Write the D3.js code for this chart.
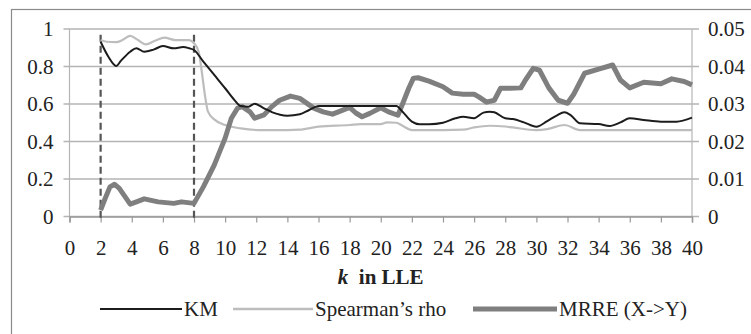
<!DOCTYPE html>
<html>
<head>
<meta charset="utf-8">
<script src="https://cdnjs.cloudflare.com/ajax/libs/d3/7.8.5/d3.min.js"></script>
<style>
  body { margin: 0; background: #fff; }
  svg { display: block; font-family: "Liberation Serif", "Times New Roman", serif; }
  .tick-label { font-size: 21px; fill: #222; font-family: "Liberation Serif", "Times New Roman", serif; }
</style>
</head>
<body>
<script>
// k values and series
const kmK = [2, 2.5, 3, 3.3, 3.9, 4.3, 4.8, 5.4, 6, 6.7, 7.3, 7.7, 8, 8.6, 9.3, 10, 10.6, 11, 11.5, 11.9, 12.5, 13, 14, 14.8, 15.4, 16, 17, 18, 19, 20, 21, 21.4, 22, 22.5, 23.1, 24, 24.8, 25.3, 26, 26.6, 27, 27.3, 28, 28.5, 29.2, 30, 30.7, 31.3, 31.8, 32.2, 32.8, 34, 34.7, 35.4, 36, 36.9, 38, 39, 40];
const kmV = [0.932, 0.852, 0.803, 0.83, 0.879, 0.897, 0.879, 0.89, 0.909, 0.897, 0.904, 0.897, 0.888, 0.826, 0.755, 0.684, 0.621, 0.589, 0.586, 0.602, 0.577, 0.557, 0.538, 0.545, 0.568, 0.589, 0.589, 0.589, 0.589, 0.589, 0.589, 0.559, 0.506, 0.492, 0.492, 0.5, 0.524, 0.532, 0.524, 0.554, 0.559, 0.556, 0.524, 0.52, 0.502, 0.479, 0.509, 0.538, 0.556, 0.541, 0.497, 0.493, 0.483, 0.502, 0.524, 0.515, 0.506, 0.506, 0.527];

const spK = [2, 2.4, 3, 3.4, 3.9, 4.4, 4.9, 5.5, 6.1, 6.8, 7.7, 8, 8.3, 8.5, 8.7, 8.9, 9.3, 10, 11, 12.2, 14, 14.8, 16, 18, 18.7, 20, 20.4, 21, 21.4, 22, 24, 25.3, 26, 27, 28, 28.5, 30, 30.7, 31.8, 32.8, 34, 36, 38, 40];
const spV = [0.941, 0.932, 0.93, 0.941, 0.963, 0.941, 0.918, 0.937, 0.954, 0.941, 0.941, 0.924, 0.879, 0.772, 0.648, 0.559, 0.518, 0.488, 0.47, 0.461, 0.461, 0.463, 0.479, 0.488, 0.493, 0.493, 0.502, 0.5, 0.484, 0.461, 0.461, 0.463, 0.475, 0.484, 0.48, 0.475, 0.461, 0.466, 0.488, 0.461, 0.461, 0.461, 0.461, 0.461];

const mrK = [2, 2.3, 2.6, 2.9, 3.2, 3.5, 3.9, 4.3, 4.8, 5.7, 6.7, 7.2, 8, 8.6, 9.3, 10, 10.4, 10.8, 11.1, 11.6, 11.9, 12.5, 13, 13.5, 14.2, 14.8, 15.7, 16.3, 16.9, 17.4, 18, 18.4, 18.8, 19.3, 20, 20.5, 21.1, 21.4, 21.8, 22.1, 22.4, 23.1, 24, 24.6, 25.3, 26, 26.3, 26.8, 27.3, 27.7, 28.3, 29, 29.3, 29.8, 30.2, 30.8, 31.4, 32, 32.4, 33.1, 34, 34.9, 35.4, 36, 36.9, 38, 38.7, 39.5, 40];
const mrV = [0.0017, 0.0049, 0.0079, 0.0086, 0.0075, 0.0057, 0.0033, 0.0039, 0.0047, 0.0039, 0.0035, 0.0039, 0.0035, 0.0079, 0.0137, 0.0209, 0.0262, 0.0289, 0.0293, 0.0279, 0.0262, 0.0271, 0.0293, 0.031, 0.0321, 0.0315, 0.0289, 0.0279, 0.0273, 0.0281, 0.0291, 0.0276, 0.0266, 0.0275, 0.029, 0.0279, 0.027, 0.030, 0.0342, 0.0369, 0.037, 0.0361, 0.0346, 0.0329, 0.0326, 0.0326, 0.0319, 0.0305, 0.031, 0.0342, 0.0342, 0.0343, 0.0364, 0.0395, 0.039, 0.0343, 0.031, 0.0302, 0.0326, 0.0382, 0.0393, 0.0404, 0.0364, 0.0343, 0.0358, 0.0354, 0.0367, 0.036, 0.0351];

const xTicks = d3.range(0, 41, 2);
const leftTicks = [0, 0.2, 0.4, 0.6, 0.8, 1];
const rightTicks = [0, 0.01, 0.02, 0.03, 0.04, 0.05];
const markers = [2, 8];
const legendNames = ["KM", "Spearman\u2019s rho", "MRRE (X->Y)"];

const width = 751, height = 334;
const margin = { top: 29, right: 59, bottom: 117.5, left: 69.5 };

const svg = d3.select("body").append("svg")
  .attr("width", width)
  .attr("height", height);

// outer frame (runs off the bottom/right like the source crop)
svg.append("rect")
  .attr("x", 11.5).attr("y", 9.5)
  .attr("width", 760).attr("height", 400)
  .attr("fill", "none").attr("stroke", "#8a8a8a").attr("stroke-width", 1.2);

const x = d3.scaleLinear().domain([0, 40]).range([margin.left, width - margin.right]);
const y = d3.scaleLinear().domain([0, 1]).range([height - margin.bottom, margin.top]);
const y2 = d3.scaleLinear().domain([0, 0.05]).range([height - margin.bottom, margin.top]);

// gridlines
svg.append("g")
  .selectAll("line")
  .data(leftTicks)
  .join("line")
  .attr("x1", x(0) - 6).attr("x2", x(40) + 7)
  .attr("y1", d => y(d)).attr("y2", d => y(d))
  .attr("stroke", "#b5b5b5").attr("stroke-width", 1.5);

// axis lines
svg.append("line")
  .attr("x1", x(0)).attr("x2", x(0)).attr("y1", y(1)).attr("y2", y(0))
  .attr("stroke", "#b5b5b5").attr("stroke-width", 1.2);
svg.append("line")
  .attr("x1", x(40)).attr("x2", x(40)).attr("y1", y(1)).attr("y2", y(0))
  .attr("stroke", "#b5b5b5").attr("stroke-width", 1.2);

// x axis
const xAxis = d3.axisBottom(x).tickValues(xTicks).tickSize(6).tickPadding(16);
const xAxisG = svg.append("g")
  .attr("transform", `translate(0,${y(0)})`)
  .call(xAxis)
  .attr("font-family", null)
  .attr("font-size", null);
xAxisG.select(".domain").attr("stroke", "#999").attr("stroke-width", 1.5);
xAxisG.selectAll(".tick line").attr("stroke", "#999").attr("stroke-width", 1.2);
xAxisG.selectAll(".tick text")
  .attr("class", "tick-label")
  .attr("fill", null)
  .attr("dy", "0.78em");

// left axis labels
svg.append("g")
  .selectAll("text")
  .data(leftTicks)
  .join("text")
  .attr("class", "tick-label")
  .attr("x", x(0) - 16)
  .attr("y", d => y(d))
  .attr("dy", "0.35em")
  .attr("text-anchor", "end")
  .text(d => d3.format("~g")(d));

// right axis labels
svg.append("g")
  .selectAll("text")
  .data(rightTicks)
  .join("text")
  .attr("class", "tick-label")
  .attr("x", x(40) + 16)
  .attr("y", d => y2(d))
  .attr("dy", "0.35em")
  .attr("text-anchor", "start")
  .text(d => d === 0 ? "0" : d3.format(".2f")(d));

// axis title
const title = svg.append("text")
  .attr("x", (x(0) + x(40)) / 2)
  .attr("y", 284)
  .attr("text-anchor", "middle")
  .attr("font-size", 21)
  .attr("font-weight", "bold")
  .attr("fill", "#222");
title.append("tspan").attr("font-style", "italic").text("k");
title.append("tspan").text("\u00a0 in LLE");

// dashed markers at k=2 and k=8
svg.append("g")
  .selectAll("line")
  .data(markers)
  .join("line")
  .attr("x1", d => x(d)).attr("x2", d => x(d))
  .attr("y1", y(0.97)).attr("y2", y(0) + 5)
  .attr("stroke", "#555").attr("stroke-width", 2.2)
  .attr("stroke-dasharray", "7,4");

const kmData = d3.zip(kmK, kmV);
const spData = d3.zip(spK, spV);
const mrData = d3.zip(mrK, mrV);

const line = d3.line().x(d => x(d[0])).y(d => y(d[1])).curve(d3.curveMonotoneX);
const line2 = d3.line().x(d => x(d[0])).y(d => y2(d[1]));

svg.append("path").datum(spData)
  .attr("d", line)
  .attr("fill", "none").attr("stroke", "#bdbdbd").attr("stroke-width", 2.2);

svg.append("path").datum(mrData)
  .attr("d", line2)
  .attr("fill", "none").attr("stroke", "#7f7f7f").attr("stroke-width", 5)
  .attr("stroke-linejoin", "round");

svg.append("path").datum(kmData)
  .attr("d", line)
  .attr("fill", "none").attr("stroke", "#1c1c1c").attr("stroke-width", 2);

// legend
const legendY = 309;
const legendItems = [
  { name: legendNames[0], x0: 100, x1: 182, color: "#1c1c1c", w: 2 },
  { name: legendNames[1], x0: 233, x1: 313, color: "#bdbdbd", w: 2.5 },
  { name: legendNames[2], x0: 473, x1: 557, color: "#7f7f7f", w: 5 }
];

const legend = svg.selectAll(".legend")
  .data(legendItems)
  .join("g")
  .attr("class", "legend");

legend.append("line")
  .attr("x1", d => d.x0).attr("x2", d => d.x1)
  .attr("y1", legendY).attr("y2", legendY)
  .attr("stroke", d => d.color).attr("stroke-width", d => d.w);

legend.append("text")
  .attr("class", "tick-label")
  .attr("x", d => d.x1 + 2)
  .attr("y", legendY)
  .attr("dy", "0.35em")
  .text(d => d.name);
</script>
</body>
</html>
